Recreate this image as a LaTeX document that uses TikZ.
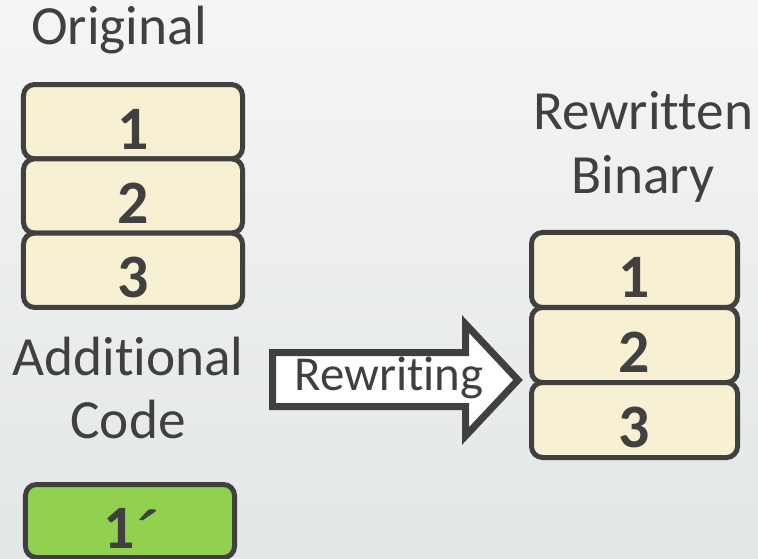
\documentclass[tikz,border=0pt]{standalone}
\usepackage{fontspec}
\usepackage{graphicx}
\setmainfont{Carlito}[Ligatures={NoCommon,NoContextual,NoRare}]
\definecolor{ink}{HTML}{404040}
\definecolor{cream}{HTML}{F8F0D3}
\definecolor{leaf}{HTML}{92D050}
\definecolor{bgtop}{HTML}{F4F5F5}
\definecolor{bgbot}{HTML}{E4E7E7}
\newcommand{\dig}[1]{\raisebox{-8bp}[39bp][0pt]{#1}}
\newcommand{\primemark}{\kern3bp\raisebox{27bp}{\scalebox{2.3}[0.85]{\fontsize{32}{32}\selectfont\boldmath$\prime$}}}
\tikzset{
  blk/.style={draw=ink, line width=5bp, rounded corners=11bp, fill=cream,
    minimum height=74.3bp, inner sep=0pt, text=ink,
    font=\fontsize{62}{62}\selectfont\bfseries},
  lbl/.style={text=ink, inner sep=0pt, font=\fontsize{55.5}{64}\selectfont, align=center},
}
\begin{document}
\begin{tikzpicture}[x=1bp,y=-1bp]
\shade[top color=bgtop, bottom color=bgbot] (0,0) rectangle (758,559);
\useasboundingbox (0,0) rectangle (758,559);
% left stack
\node[blk, minimum width=219bp] (o1) at (133,121.7) {\dig{1}};
\node[blk, minimum width=219bp] (o2) at (133,196) {\dig{2}};
\node[blk, minimum width=219bp] (o3) at (133,270.3) {\dig{3}};
% right stack
\node[blk, minimum width=206bp, minimum height=75bp] (r1) at (634.5,270) {\dig{1}};
\node[blk, minimum width=206bp, minimum height=75bp] (r2) at (634.5,345) {\dig{2}};
\node[blk, minimum width=206bp, minimum height=75bp] (r3) at (634.5,420) {\dig{3}};
% green
\node[blk, fill=leaf, minimum width=209bp, minimum height=73bp] (g1) at (130,521)
  {\dig{1\primemark}};
% labels
\node[lbl] (orig) at (119,30) {Original};
\node[lbl] (add) at (128,388) {Additional\\Code};
\node[lbl] (rew) at (643,147) {Rewritten\\Binary};
% arrow
\draw[draw=ink, fill=white, line width=7bp, line join=miter]
  (272.5,352.5) -- (465.5,352.5) -- (465.5,324) -- (518,380) -- (465.5,436)
  -- (465.5,406.5) -- (272.5,406.5) -- cycle;
\node[text=ink, inner sep=0pt, font=\fontsize{49}{49}\selectfont] (rwt) at (389,378) {Rewriting};
\end{tikzpicture}
\end{document}
